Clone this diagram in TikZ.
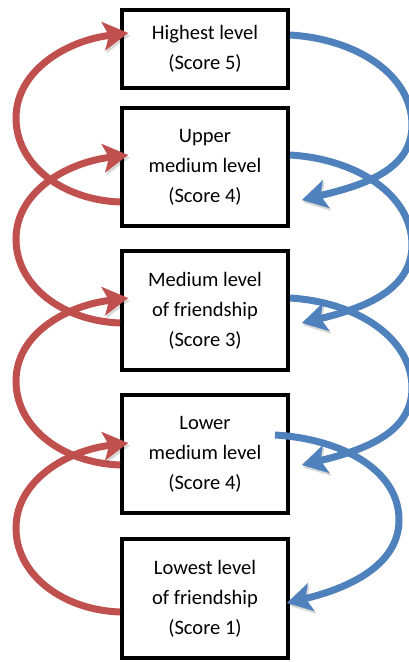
\documentclass[tikz,border=0pt]{standalone}
\usepackage{fontspec}
\setmainfont{Carlito}
\usetikzlibrary{arrows.meta,shadows}

\definecolor{loopred}{RGB}{192,80,77}
\definecolor{loopblue}{RGB}{79,129,189}

\begin{document}
\begin{tikzpicture}[x=1pt,y=1pt,
  level/.style={draw=black, line width=4pt, fill=white, minimum width=166pt,
    align=center, inner sep=0pt, font=\fontsize{20.5}{30}\selectfont,
    drop shadow={opacity=0.18, shadow xshift=2pt, shadow yshift=-2pt}},
  flow/.style={line width=7pt,
    -{Stealth[length=25pt,width=29pt,inset=6pt,line width=0.1pt]},
    preaction={draw=black, opacity=0.15,
      transform canvas={xshift=1.5pt,yshift=-2.5pt}}},
  upflow/.style={flow, draw=loopred},
  downflow/.style={flow, draw=loopblue}
]
\useasboundingbox (0,0) rectangle (408,662);

% the five levels, top to bottom
\node[level, minimum height=78pt]  (l5) at (205,613)   {Highest level\\(Score 5)};
\node[level, minimum height=118pt] (l4) at (205,495)   {Upper\\medium level\\(Score 4)};
\node[level, minimum height=119pt] (l3) at (205,351.5) {Medium level\\of friendship\\(Score 3)};
\node[level, minimum height=118pt] (l2) at (205,208)   {Lower\\medium level\\(Score 4)};
\node[level, minimum height=119pt] (l1) at (205,63.5)  {Lowest level\\of friendship\\(Score 1)};

% moving up: half-ellipse loops on the left
\tikzset{uploop/.style={to path={
  .. controls +(-57,2) and +(0,-47) .. ++(-104,84)
  .. controls +(0,47) and +(-62,-8) .. (\tikztotarget) \tikztonodes}}}
\draw[upflow] ([yshift=-35pt]l4.west)   to[uploop] ([xshift=8pt,yshift=16pt]l5.west);
\draw[upflow] ([yshift=-12.5pt]l3.west) to[uploop] ([xshift=8pt,yshift=12pt]l4.west);
\draw[upflow] ([yshift=-11pt]l2.west)   to[uploop] ([xshift=8pt,yshift=12.5pt]l3.west);
\draw[upflow] ([yshift=-13.5pt]l1.west) to[uploop] ([xshift=8pt,yshift=11pt]l2.west);

% moving down: half-ellipse loops on the right
\tikzset{downloop/.style={to path={
  .. controls +(67,-4) and +(0,50) .. ++(#1)
  .. controls +(0,-45) and +(62,15) .. (\tikztotarget) \tikztonodes}},
  downloop/.default={122,-90}}
\draw[downflow] ([yshift=14pt]l5.east)   to[downloop] ([xshift=12pt,yshift=-33pt]l4.east);
\draw[downflow] ([yshift=12pt]l4.east)   to[downloop] ([xshift=12pt,yshift=-12.5pt]l3.east);
\draw[downflow] ([yshift=12.5pt]l3.east) to[downloop] ([xshift=12pt,yshift=-11pt]l2.east);
\draw[downflow] ([xshift=-15pt,yshift=19pt]l2.east) to[downloop={124,-85}] ([xshift=-3pt,yshift=-4.5pt]l1.east);
\end{tikzpicture}
\end{document}
